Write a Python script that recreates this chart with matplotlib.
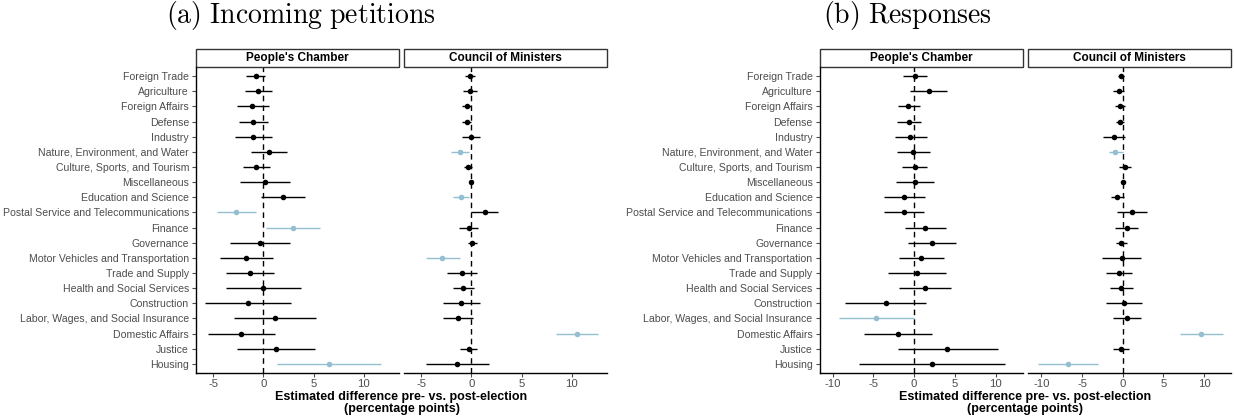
import numpy as np
import matplotlib.pyplot as plt
from matplotlib.patches import Rectangle

# Policy areas, top to bottom
categories = ["Foreign Trade", "Agriculture", "Foreign Affairs", "Defense", "Industry",
              "Nature, Environment, and Water", "Culture, Sports, and Tourism", "Miscellaneous",
              "Education and Science", "Postal Service and Telecommunications", "Finance",
              "Governance", "Motor Vehicles and Transportation", "Trade and Supply",
              "Health and Social Services", "Construction", "Labor, Wages, and Social Insurance",
              "Domestic Affairs", "Justice", "Housing"]

# (a) Incoming petitions - People's Chamber
a_pc_est = [-0.7, -0.5, -1.1, -1.0, -1.0, 0.6, -0.7, 0.2, 2.0, -2.7, 3.0,
            -0.3, -1.7, -1.3, 0.0, -1.5, 1.2, -2.2, 1.3, 6.5]
a_pc_lo = [-1.7, -1.8, -2.6, -2.4, -2.8, -1.2, -2.0, -2.3, -0.2, -4.6, 0.3,
           -3.3, -4.3, -3.7, -3.7, -5.8, -2.9, -5.5, -2.6, 1.4]
a_pc_hi = [0.2, 0.9, 0.6, 0.5, 0.9, 2.4, 0.7, 2.7, 4.1, -0.7, 5.6,
           2.7, 1.0, 1.1, 3.7, 2.8, 5.2, 1.2, 5.1, 11.7]
a_pc_sig = [0, 0, 0, 0, 0, 0, 0, 0, 0, 1, 1, 0, 0, 0, 0, 0, 0, 0, 0, 1]

# (a) Incoming petitions - Council of Ministers
a_cm_est = [-0.1, -0.1, -0.4, -0.4, 0.0, -1.1, -0.3, 0.0, -1.0, 1.4, -0.2,
            0.1, -2.9, -0.9, -0.8, -1.0, -1.3, 10.5, -0.2, -1.4]
a_cm_lo = [-0.6, -0.8, -0.9, -0.9, -0.9, -2.0, -0.7, -0.2, -1.8, 0.0, -1.2,
           -0.3, -4.5, -2.4, -1.8, -2.8, -2.8, 8.4, -1.1, -4.5]
a_cm_hi = [0.4, 0.6, 0.0, 0.0, 0.9, -0.2, 0.1, 0.1, -0.2, 2.7, 0.7,
           0.6, -1.1, 0.6, 0.3, 0.9, 0.2, 12.6, 0.6, 1.8]
a_cm_sig = [0, 0, 0, 0, 0, 1, 0, 0, 1, 0, 0, 0, 1, 0, 0, 0, 0, 1, 0, 0]

# (b) Responses - People's Chamber
b_pc_est = [0.1, 1.8, -0.7, -0.6, -0.5, -0.1, 0.1, 0.1, -1.2, -1.2, 1.4,
            2.2, 0.9, 0.3, 1.3, -3.5, -4.7, -2.0, 4.1, 2.2]
b_pc_lo = [-1.3, -0.5, -2.0, -2.1, -2.4, -2.1, -1.5, -2.2, -3.7, -3.7, -1.1,
           -0.8, -1.8, -3.2, -1.9, -8.5, -9.2, -6.2, -2.0, -6.8]
b_pc_hi = [1.6, 4.0, 0.7, 0.9, 1.6, 1.9, 1.6, 2.5, 1.4, 1.2, 3.9,
           5.2, 3.7, 3.9, 4.5, 1.5, 0.0, 2.2, 10.3, 11.1]
b_pc_sig = [0, 0, 0, 0, 0, 0, 0, 0, 0, 0, 0, 0, 0, 0, 0, 0, 1, 0, 0, 0]

# (b) Responses - Council of Ministers
b_cm_est = [-0.2, -0.5, -0.3, -0.3, -1.1, -0.9, 0.3, 0.0, -0.7, 1.2, 0.5,
            -0.2, -0.1, -0.5, -0.2, 0.1, 0.5, 9.6, -0.2, -6.7]
b_cm_lo = [-0.6, -1.2, -0.9, -0.8, -2.4, -1.7, -0.5, -0.2, -1.5, -0.7, -0.9,
           -0.8, -2.5, -2.1, -1.6, -2.1, -1.2, 7.0, -1.2, -10.4]
b_cm_hi = [0.2, 0.1, 0.3, 0.2, 0.3, 0.0, 1.0, 0.2, 0.2, 3.0, 1.9,
           0.5, 2.3, 1.2, 1.3, 2.4, 2.3, 12.3, 0.8, -3.0]
b_cm_sig = [0, 0, 0, 0, 0, 1, 0, 0, 0, 0, 0, 0, 0, 0, 0, 0, 0, 1, 0, 1]

BLUE = "#93bfd0"
GREY = "#4d4d4d"
W, H = 1234, 418


def px_axes(fig, x0, x1, top=67, bottom=373):
    # axes placed from pixel coordinates
    return fig.add_axes([x0 / W, 1 - bottom / H, (x1 - x0) / W, (bottom - top) / H])


def draw_panel(ax, est, lo, hi, sig, strip, xlim, xticks, first):
    y = np.arange(len(categories))
    for i in y:
        c = BLUE if sig[i] else "black"
        ax.plot([lo[i], hi[i]], [i, i], color=c, lw=1.0, solid_capstyle="butt", zorder=2)
        ax.plot(est[i], i, "o", color=c, ms=4, mec="none", zorder=3)
    ax.axvline(0, color="black", ls=(0, (4, 3)), lw=1.0, zorder=1)
    ax.set_xlim(xlim)
    ax.set_ylim(len(categories) - 0.4, -0.6)
    ax.set_xticks(xticks)
    ax.set_xticklabels([str(t) for t in xticks], color=GREY, fontsize=8.2)
    ax.tick_params(axis="x", length=3, color=GREY, pad=1.5)
    for s in ["top", "right"]:
        ax.spines[s].set_visible(False)
    ax.spines["bottom"].set_linewidth(1.0)
    if first:
        ax.set_yticks(y)
        ax.set_yticklabels(categories, color=GREY, fontsize=7.6)
        ax.tick_params(axis="y", length=3, color=GREY, pad=2)
        ax.spines["left"].set_linewidth(1.0)
    else:
        ax.set_yticks([])
        ax.spines["left"].set_visible(False)
    ax.add_patch(Rectangle((0, 1.0), 1, 18 / 306, transform=ax.transAxes, clip_on=False,
                           fc="white", ec="#333333", lw=1.0))
    ax.text(0.5, 1 + 9 / 306, strip, transform=ax.transAxes, ha="center", va="center",
            fontsize=8.5, fontweight="bold")


fig = plt.figure(figsize=(W / 100, H / 100), dpi=100)
plt.rcParams["font.family"] = ["Liberation Sans", "DejaVu Sans"]

ax1 = px_axes(fig, 196, 399)
ax2 = px_axes(fig, 404, 607)
ax3 = px_axes(fig, 819.5, 1022.5)
ax4 = px_axes(fig, 1028.3, 1231)

draw_panel(ax1, a_pc_est, a_pc_lo, a_pc_hi, a_pc_sig, "People's Chamber", (-6.7, 13.5), [-5, 0, 5, 10], True)
draw_panel(ax2, a_cm_est, a_cm_lo, a_cm_hi, a_cm_sig, "Council of Ministers", (-6.7, 13.5), [-5, 0, 5, 10], False)
draw_panel(ax3, b_pc_est, b_pc_lo, b_pc_hi, b_pc_sig, "People's Chamber", (-11.6, 13.3), [-10, -5, 0, 5, 10], True)
draw_panel(ax4, b_cm_est, b_cm_lo, b_cm_hi, b_cm_sig, "Council of Ministers", (-11.6, 13.3), [-10, -5, 0, 5, 10], False)

xlab = "Estimated difference pre- vs. post-election\n(percentage points)"
fig.text(401.5 / W, 1 - 403 / H, xlab, ha="center", va="center", fontsize=9, fontweight="bold",
         linespacing=1.08)
fig.text(1025 / W, 1 - 403 / H, xlab, ha="center", va="center", fontsize=9, fontweight="bold",
         linespacing=1.08)

fig.text(301 / W, 1 - 16 / H, r"$\mathrm{(a)\ Incoming\ petitions}$", ha="center", va="center",
         fontsize=20, math_fontfamily="cm")
fig.text(907 / W, 1 - 16 / H, r"$\mathrm{(b)\ Responses}$", ha="center", va="center",
         fontsize=20, math_fontfamily="cm")

fig.savefig("out.png", dpi=100)
